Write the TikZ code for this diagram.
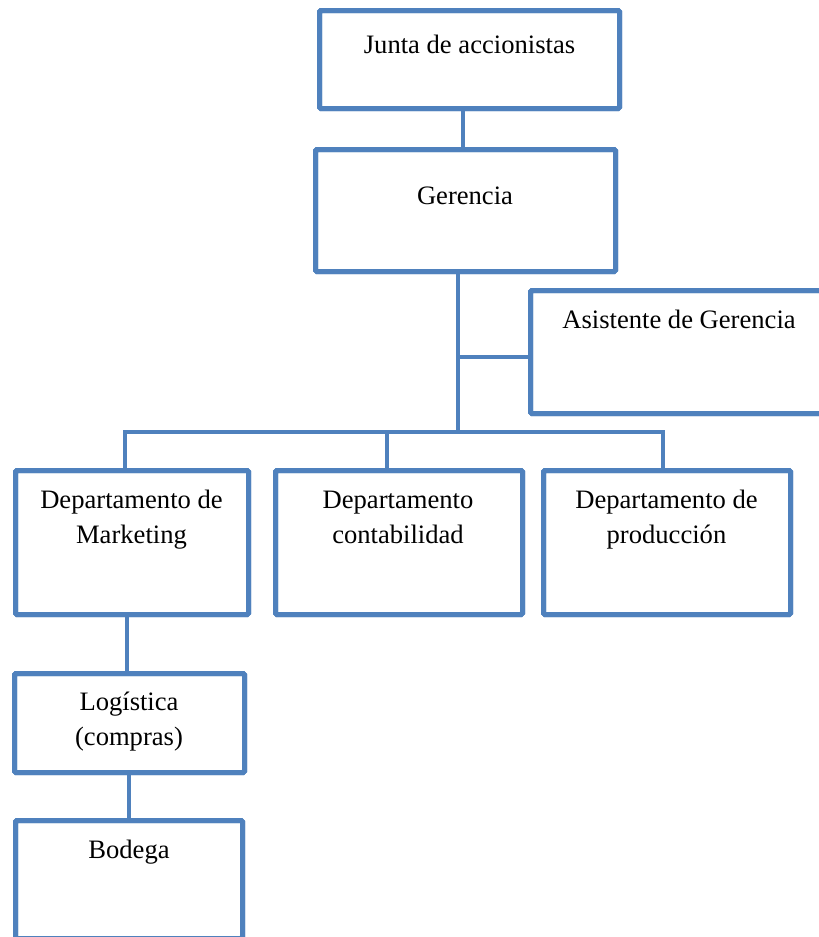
\documentclass[tikz,border=0pt]{standalone}
\usepackage{fontspec}
\setmainfont{Liberation Serif}
\definecolor{orgblue}{HTML}{4F81BD}
\tikzset{
  unitbox/.style={draw=orgblue, line width=5pt, rounded corners=1.5pt, fill=white,
    inner sep=0pt, outer sep=0pt},
  link/.style={draw=orgblue, line width=4pt},
  lbl/.style={inner sep=0pt, align=center, anchor=base, text=black,
    font=\fontsize{26.6}{35}\selectfont},
}
\begin{document}
\begin{tikzpicture}[x=1pt, y=-1pt]
\useasboundingbox (0,0) rectangle (819,937);
\clip (0,0) rectangle (819,937);

% boxes (sizes measured on the border centre line)
\node[unitbox, minimum width=300pt, minimum height=98pt]  (junta)    at (469.5,59.5) {};
\node[unitbox, minimum width=300pt, minimum height=122pt] (gerencia) at (465.5,210.5) {};
\node[unitbox, minimum width=300pt, minimum height=123pt] (asis)     at (680.5,352) {};
\node[unitbox, minimum width=233pt, minimum height=144pt] (mkt)      at (132,542.5) {};
\node[unitbox, minimum width=247pt, minimum height=144pt] (cont)     at (399,542.5) {};
\node[unitbox, minimum width=247pt, minimum height=144pt] (prod)     at (667,542.5) {};
\node[unitbox, minimum width=230pt, minimum height=99pt]  (logi)     at (129.5,723) {};
\node[unitbox, minimum width=227pt, minimum height=118pt] (bodega)   at (129,879.5) {};

% junction points of the connectors
\coordinate (jg)    at (463,0);
\coordinate (stem)  at (458,432);
\coordinate (asisJ) at (458,357);
\coordinate (busL)  at (125,432);
\coordinate (busC)  at (387,432);
\coordinate (busR)  at (663,432);
\coordinate (ml)    at (127,0);
\coordinate (lb)    at (129,0);

% connectors
\draw[link] (junta.south -| jg) -- (gerencia.north -| jg);
\draw[link] (gerencia.south -| stem) -- (stem);
\draw[link] (asisJ) -- (asisJ -| asis.west);
\draw[link] (mkt.north -| busL) -- (busL) -- (busR) -- (prod.north -| busR);
\draw[link] (busC) -- (cont.north -| busC);
\draw[link] (mkt.south -| ml) -- (logi.north -| ml);
\draw[link] (logi.south -| lb) -- (bodega.north -| lb);

% redraw the box borders over the connector ends
\foreach \b in {junta,gerencia,asis,mkt,cont,prod,logi,bodega}
  \draw[orgblue, line width=5pt, rounded corners=1.5pt]
    (\b.north west) rectangle (\b.south east);

% labels (base anchor sits on the last line of a label)
\node[lbl] (t-junta)    at (469.5,53)  {Junta de accionistas};
\node[lbl] (t-gerencia) at (465,204)   {Gerencia};
\node[lbl] (t-asis)     at (679,328)   {Asistente de Gerencia};
\node[lbl] (t-mkt)      at (131.5,543) {Departamento de\\Marketing};
\node[lbl] (t-cont)     at (398,543)   {Departamento\\contabilidad};
\node[lbl] (t-prod)     at (666.5,543) {Departamento de\\producción};
\node[lbl] (t-logi)     at (129,745)   {Logística\\(compras)};
\node[lbl] (t-bodega)   at (129,858)   {Bodega};
\end{tikzpicture}
\end{document}
